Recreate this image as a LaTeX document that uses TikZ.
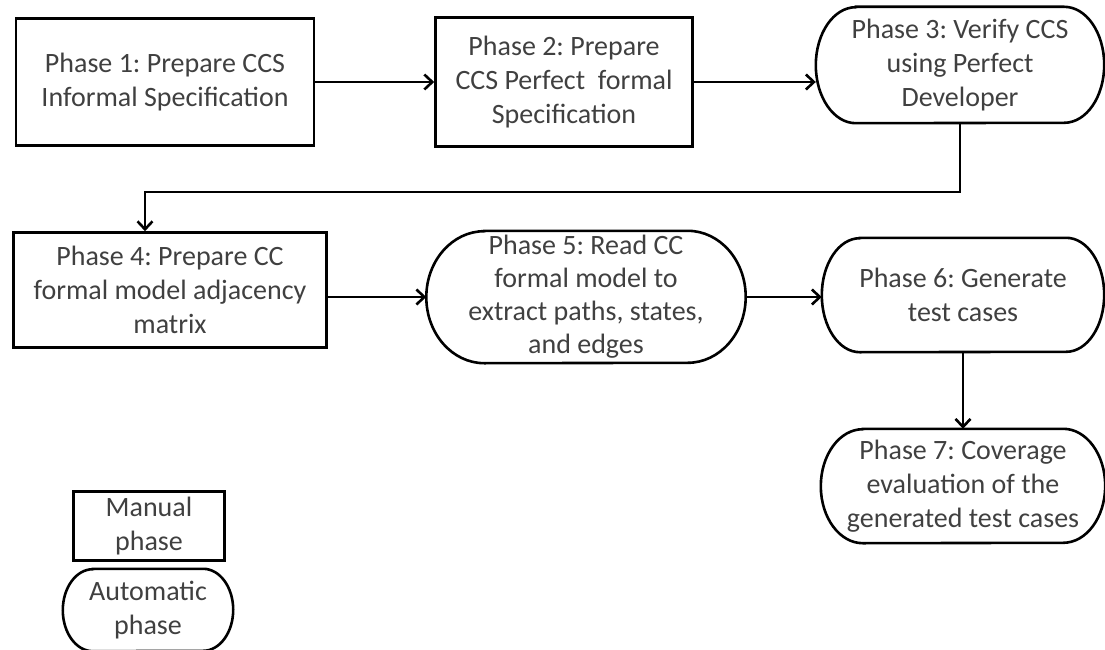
\documentclass[tikz,border=0pt]{standalone}
\usepackage{fontspec}
\setmainfont{Carlito}
\usetikzlibrary{arrows.meta}
\definecolor{phasetext}{HTML}{404040}
\frenchspacing
% outline of an automatic phase: flat top and bottom, half-ellipse ends
\newcommand{\phaseedge}[3]{%
  \draw[line width=2.6pt] ([xshift=#2]#1.north west) -- ([xshift=-#2]#1.north east)
    arc[start angle=90, end angle=-90, x radius=#2, y radius=#3]
    -- ([xshift=#2]#1.south west)
    arc[start angle=270, end angle=90, x radius=#2, y radius=#3] -- cycle;}
\begin{document}
\begin{tikzpicture}[x=1pt, y=-1pt,
  manualbox/.style={draw=black, line width=2.6pt, rectangle, align=center,
    text=phasetext, font=\fontsize{28}{34}\selectfont, inner sep=0pt},
  autobox/.style={rectangle, align=center, text=phasetext,
    font=\fontsize{28}{34}\selectfont, inner sep=0pt},
  flow/.style={draw=black, line width=2.6pt, -{Straight Barb[length=8pt, width=15pt]}}]
\useasboundingbox (0,0) rectangle (1105,650);

\node[manualbox, minimum width=298pt, minimum height=127pt] (p1) at (165,82)
  {Phase 1: Prepare CCS\\Informal Specification};
\node[manualbox, minimum width=257pt, minimum height=129pt] (p2) at (564,82)
  {Phase 2: Prepare\\CCS Perfect \ formal\\Specification};
\node[autobox, minimum width=288pt, minimum height=116pt] (p3) at (960,65)
  {Phase 3: Verify CCS\\using Perfect\\Developer};
\phaseedge{p3}{40pt}{58pt}

\node[manualbox, minimum width=313pt, minimum height=115pt] (p4) at (170,290)
  {Phase 4: Prepare CC\\formal model adjacency\\matrix};
\node[autobox, minimum width=319pt, minimum height=132pt,
  font=\fontsize{28}{33}\selectfont] (p5) at (586,297)
  {Phase 5: Read CC\\formal model to\\extract paths, states,\\and edges};
\phaseedge{p5}{58pt}{66pt}
\node[autobox, minimum width=282pt, minimum height=114pt] (p6) at (963,295)
  {Phase 6: Generate\\test cases};
\phaseedge{p6}{38pt}{57pt}
\node[autobox, minimum width=284pt, minimum height=114pt] (p7) at (963,486)
  {Phase 7: Coverage\\evaluation of the\\generated test cases};
\phaseedge{p7}{42pt}{57pt}

% legend
\node[manualbox, minimum width=151pt, minimum height=69pt] (manual) at (149,526)
  {Manual\\phase};
\node[autobox, minimum width=170pt, minimum height=82pt] (automatic) at (148,610)
  {Automatic\\phase};
\phaseedge{automatic}{30pt}{41pt}

\draw[flow] (p1.east) -- (p2.west);
\draw[flow] (p2.east) -- (p3.west |- p2.east);
\coordinate (turn) at (145,192);
\draw[flow] (p3.south) |- (turn) -- (turn |- p4.north);
\draw[flow] (p4.east |- p5.west) -- (p5.west);
\draw[flow] (p5.east) -- (p6.west |- p5.east);
\draw[flow] (p6.south) -- (p7.north);
\end{tikzpicture}
\end{document}
